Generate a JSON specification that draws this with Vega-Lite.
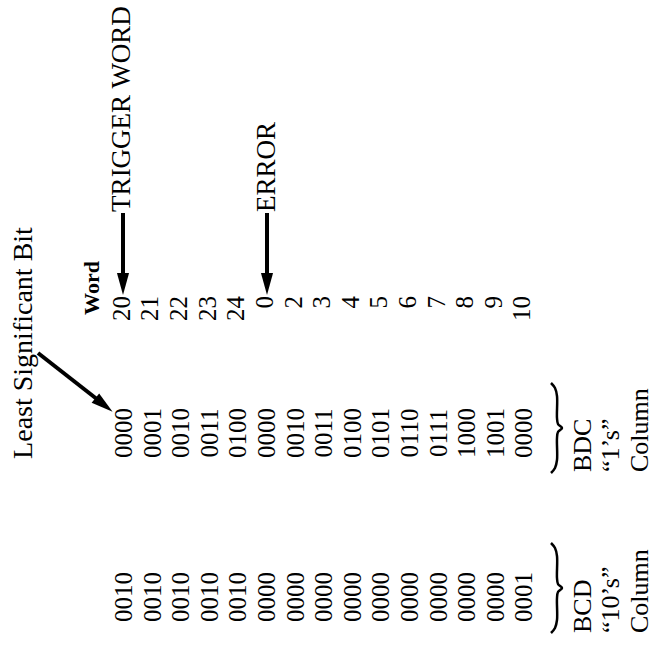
{
  "$schema": "https://vega.github.io/schema/vega-lite/v6.json",
  "width": 654,
  "height": 651,
  "autosize": {"type": "fit", "contains": "padding"},
  "padding": 0,
  "background": "white",
  "config": {"view": {"stroke": null}},
  "encoding": {
    "x": {"field": "x", "type": "quantitative", "scale": {"domain": [0, 654], "nice": false, "zero": false}, "axis": null},
    "y": {"field": "y", "type": "quantitative", "scale": {"domain": [0, 651], "nice": false, "zero": false, "reverse": true}, "axis": null}
  },
  "layer": [
    {
      "data": {"values": [
        {"t": "TRIGGER WORD", "x": 122, "y": 109, "s": 27},
        {"t": "ERROR", "x": 267, "y": 167, "s": 27},
        {"t": "Least Significant Bit", "x": 24, "y": 343, "s": 28},
        {"t": "0000", "x": 124, "y": 433, "s": 25},
        {"t": "0001", "x": 153, "y": 433, "s": 25},
        {"t": "0010", "x": 181, "y": 433, "s": 25},
        {"t": "0011", "x": 210, "y": 433, "s": 25},
        {"t": "0100", "x": 238, "y": 433, "s": 25},
        {"t": "0000", "x": 267, "y": 433, "s": 25},
        {"t": "0010", "x": 296, "y": 433, "s": 25},
        {"t": "0011", "x": 324, "y": 433, "s": 25},
        {"t": "0100", "x": 353, "y": 433, "s": 25},
        {"t": "0101", "x": 381, "y": 433, "s": 25},
        {"t": "0110", "x": 410, "y": 433, "s": 25},
        {"t": "0111", "x": 439, "y": 433, "s": 25},
        {"t": "1000", "x": 467, "y": 433, "s": 25},
        {"t": "1001", "x": 496, "y": 433, "s": 25},
        {"t": "0000", "x": 524, "y": 433, "s": 25},
        {"t": "0010", "x": 124, "y": 597, "s": 25},
        {"t": "0010", "x": 153, "y": 597, "s": 25},
        {"t": "0010", "x": 181, "y": 597, "s": 25},
        {"t": "0010", "x": 210, "y": 597, "s": 25},
        {"t": "0010", "x": 238, "y": 597, "s": 25},
        {"t": "0000", "x": 267, "y": 597, "s": 25},
        {"t": "0000", "x": 296, "y": 597, "s": 25},
        {"t": "0000", "x": 324, "y": 597, "s": 25},
        {"t": "0000", "x": 353, "y": 597, "s": 25},
        {"t": "0000", "x": 381, "y": 597, "s": 25},
        {"t": "0000", "x": 410, "y": 597, "s": 25},
        {"t": "0000", "x": 439, "y": 597, "s": 25},
        {"t": "0000", "x": 467, "y": 597, "s": 25},
        {"t": "0000", "x": 496, "y": 597, "s": 25},
        {"t": "0001", "x": 524, "y": 597, "s": 25}
      ]},
      "mark": {"type": "text", "angle": 270, "align": "center", "baseline": "middle", "font": "Liberation Serif", "color": "black"},
      "encoding": {
        "text": {"field": "t"},
        "size": {"field": "s", "type": "quantitative", "scale": null}
      }
    },
    {
      "data": {"values": [
        {"t": "20", "x": 122, "y": 296, "s": 25},
        {"t": "21", "x": 150, "y": 296, "s": 25},
        {"t": "22", "x": 179, "y": 296, "s": 25},
        {"t": "23", "x": 208, "y": 296, "s": 25},
        {"t": "24", "x": 236, "y": 296, "s": 25},
        {"t": "0", "x": 265, "y": 296, "s": 25},
        {"t": "2", "x": 294, "y": 296, "s": 25},
        {"t": "3", "x": 322, "y": 296, "s": 25},
        {"t": "4", "x": 351, "y": 296, "s": 25},
        {"t": "5", "x": 379, "y": 296, "s": 25},
        {"t": "6", "x": 408, "y": 296, "s": 25},
        {"t": "7", "x": 437, "y": 296, "s": 25},
        {"t": "8", "x": 465, "y": 296, "s": 25},
        {"t": "9", "x": 494, "y": 296, "s": 25},
        {"t": "10", "x": 522, "y": 296, "s": 25}
      ]},
      "mark": {"type": "text", "angle": 270, "align": "right", "baseline": "middle", "font": "Liberation Serif", "color": "black"},
      "encoding": {
        "text": {"field": "t"},
        "size": {"field": "s", "type": "quantitative", "scale": null}
      }
    },
    {
      "data": {"values": [{"t": "Word", "x": 92, "y": 288, "s": 22}]},
      "mark": {"type": "text", "angle": 270, "align": "center", "baseline": "middle", "font": "Liberation Serif", "fontWeight": "bold", "color": "black"},
      "encoding": {
        "text": {"field": "t"},
        "size": {"field": "s", "type": "quantitative", "scale": null}
      }
    },
    {
      "data": {"values": [
        {"t": "BDC", "x": 583, "y": 472, "s": 26},
        {"t": "\u201c1\u2019s\u201d", "x": 611, "y": 472, "s": 26},
        {"t": "Column", "x": 640, "y": 472, "s": 26},
        {"t": "BCD", "x": 583, "y": 633, "s": 26},
        {"t": "\u201c10\u2019s\u201d", "x": 611, "y": 633, "s": 26},
        {"t": "Column", "x": 640, "y": 633, "s": 26}
      ]},
      "mark": {"type": "text", "angle": 270, "align": "left", "baseline": "middle", "font": "Liberation Serif", "color": "black"},
      "encoding": {
        "text": {"field": "t"},
        "size": {"field": "s", "type": "quantitative", "scale": null}
      }
    },
    {
      "data": {"values": [
        {"x": 123, "y": 213, "x2": 123, "y2": 276},
        {"x": 267, "y": 213, "x2": 267, "y2": 276},
        {"x": 38, "y": 353, "x2": 100, "y2": 401.5}
      ]},
      "mark": {"type": "rule", "color": "black", "strokeWidth": 4},
      "encoding": {
        "x2": {"field": "x2"},
        "y2": {"field": "y2"}
      }
    },
    {
      "data": {"values": [
        {"x": 123, "y": 284, "a": 0},
        {"x": 267, "y": 284, "a": 0},
        {"x": 104, "y": 405, "a": 308.6}
      ]},
      "mark": {"type": "point", "shape": "M0,1L-0.55,-1L0.55,-1Z", "filled": true, "color": "black", "opacity": 1, "size": 484, "strokeWidth": 0},
      "encoding": {
        "angle": {"field": "a", "type": "quantitative", "scale": null}
      }
    },
    {
      "data": {"values": [
        {"b": 1, "i": 1, "x": 551, "y": 383},
        {"b": 1, "i": 2, "x": 555, "y": 388},
        {"b": 1, "i": 3, "x": 557, "y": 396},
        {"b": 1, "i": 4, "x": 557, "y": 418},
        {"b": 1, "i": 5, "x": 558, "y": 424},
        {"b": 1, "i": 6, "x": 562, "y": 428},
        {"b": 1, "i": 7, "x": 558, "y": 432},
        {"b": 1, "i": 8, "x": 557, "y": 438},
        {"b": 1, "i": 9, "x": 557, "y": 460},
        {"b": 1, "i": 10, "x": 555, "y": 468},
        {"b": 1, "i": 11, "x": 551, "y": 473},
        {"b": 2, "i": 1, "x": 551, "y": 543},
        {"b": 2, "i": 2, "x": 555, "y": 548},
        {"b": 2, "i": 3, "x": 557, "y": 556},
        {"b": 2, "i": 4, "x": 557, "y": 578},
        {"b": 2, "i": 5, "x": 558, "y": 584},
        {"b": 2, "i": 6, "x": 562, "y": 588},
        {"b": 2, "i": 7, "x": 558, "y": 592},
        {"b": 2, "i": 8, "x": 557, "y": 598},
        {"b": 2, "i": 9, "x": 557, "y": 620},
        {"b": 2, "i": 10, "x": 555, "y": 628},
        {"b": 2, "i": 11, "x": 551, "y": 633}
      ]},
      "mark": {"type": "line", "color": "black", "strokeWidth": 2.5, "interpolate": "catmull-rom"},
      "encoding": {
        "detail": {"field": "b", "type": "nominal"},
        "order": {"field": "i", "type": "quantitative"}
      }
    }
  ]
}
